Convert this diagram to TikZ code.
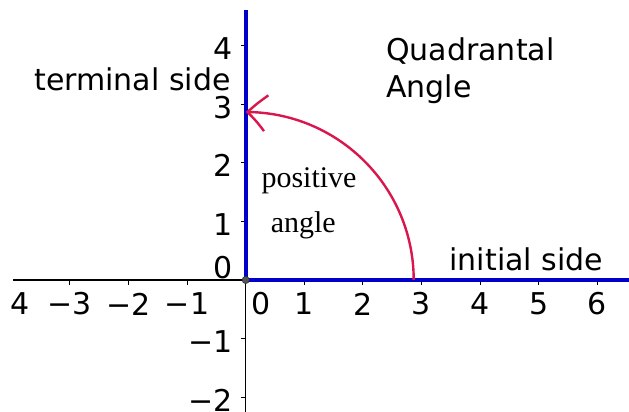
\documentclass[tikz,border=0pt]{standalone}
\usepackage{fontspec}
\setmainfont{DejaVu Sans}
\newfontfamily\timesfont{Liberation Serif}
\usetikzlibrary{arrows.meta,bending}
\definecolor{sideblue}{RGB}{0,0,200}
\definecolor{arccrimson}{RGB}{218,22,78}
\definecolor{dotgray}{RGB}{85,85,85}
\begin{document}
\begin{tikzpicture}[x=1pt,y=-1pt,
  axisline/.style={line width=1.3pt,black},
  tickline/.style={line width=1pt,black},
  sideline/.style={line width=4pt,sideblue},
  arcline/.style={line width=2.4pt,arccrimson,-{Straight Barb[length=19pt,width=36pt,bend]}},
  sanslbl/.style={font=\fontsize{30}{36}\selectfont,inner sep=0pt},
  seriflbl/.style={font=\timesfont\fontsize{30}{36}\selectfont,inner sep=0pt},
  numlbl/.style={font=\fontsize{30}{36}\selectfont,inner sep=0pt,anchor=center}]
\useasboundingbox (0,0) rectangle (629,412);
\fill[white] (0,0) rectangle (629,412);
% axes
\coordinate (O) at (245.7,280);
\coordinate (xl) at (13,280);
\coordinate (xr) at (629,280);
\coordinate (yt) at (245.7,10);
\coordinate (yb) at (245.7,412);
\draw[axisline] (xl) -- (O);
\draw[axisline] (O) -- (yb);
% x ticks and labels
\foreach \i in {-3,-2,-1,1,2,3,4,5,6}{
  \draw[tickline] ({245.7+58.6*\i},280) -- ++(0,4.5);
}
\foreach \i/\t in {-3/{−3},-2/{−2},-1/{−1},1/1,2/2,3/3,4/4,5/5,6/6}{
  \node[numlbl] (xlab\i) at ({245.7+58.6*\i},304) {\t};
}
\node[numlbl] (xlabm4) at (20,304) {4};
\node[numlbl] (xlab0) at (261,304) {0};
% y ticks and labels
\foreach \i in {-2,-1,1,2,3,4}{
  \draw[tickline] (245.7,{280-58.6*\i}) -- ++(-5,0);
}
\foreach \i/\t in {-2/{−2},-1/{−1},1/1,2/2,3/3,4/4}{
  \node[numlbl,anchor=east] (ylab\i) at (233,{283-58.6*\i}) {\t};
}
\node[numlbl,anchor=east] (ylab0) at (233,268) {0};
% sides
\draw[sideline] (O) -- (xr);
\draw[sideline] (O) -- (yt);
% arc
\coordinate (A) at (413.7,280);
\draw[arcline] (A) arc[start angle=0,end angle=-90,radius=168];
% origin dot
\filldraw[fill=dotgray,draw=black!80,line width=0.6pt] (O) circle (3.6);
% texts
\node[sanslbl,anchor=base] (term) at (132.5,90) {terminal side};
\node[sanslbl,anchor=base west] (quad) at (386,61) {Quadrantal};
\node[sanslbl,anchor=base west] (angq) at (386,97) {Angle};
\node[sanslbl,anchor=base] (init) at (526.3,270) {initial side};
\node[seriflbl,anchor=base] (pos) at (309,187) {positive};
\node[seriflbl,anchor=base] (ang) at (303.3,232) {angle};
\end{tikzpicture}
\end{document}
